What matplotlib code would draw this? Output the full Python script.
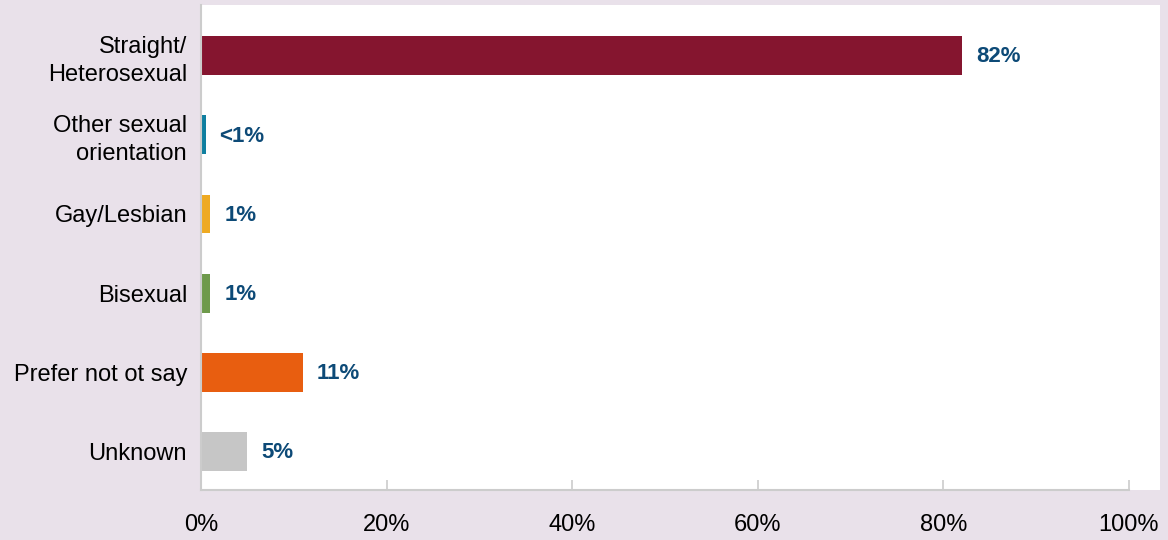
import numpy as np
from matplotlib import pyplot as plt

plt.rcParams['font.family'] = ['Liberation Sans', 'DejaVu Sans']

# data
categories = ['Straight/\nHeterosexual', 'Other sexual\norientation', 'Gay/Lesbian',
              'Bisexual', 'Prefer not ot say', 'Unknown']
values = [82, 0.5, 1, 1, 11, 5]
value_labels = ['82%', '<1%', '1%', '1%', '11%', '5%']
bar_colors = ['#85152f', '#0f7fa0', '#eeaa22', '#6e9a4b', '#e85e10', '#c6c6c6']
x_ticks = [0, 20, 40, 60, 80, 100]
x_tick_labels = ['0%', '20%', '40%', '60%', '80%', '100%']

bg = '#e9e1ea'
fig = plt.figure(figsize=(11.68, 5.4), dpi=100, facecolor=bg)
ax = fig.add_axes([201 / 1168, 50 / 540, 959 / 1168, 485 / 540])
ax.set_facecolor('white')

y = np.arange(len(categories))
ax.barh(y, values, height=0.49, color=bar_colors)

for yi, v, lab in zip(y, values, value_labels):
    ax.annotate(lab, (v, yi), xytext=(10, -1), textcoords='offset points',
                va='center', ha='left', fontsize=16, fontweight='bold',
                color='#0d4a77')

ax.set_xlim(0, 100 * 959 / 928)
ax.set_ylim(5.486, -0.638)
ax.set_xticks(x_ticks)
ax.set_xticklabels(x_tick_labels, fontsize=17)
ax.set_yticks(y)
ax.set_yticklabels(categories, fontsize=17, linespacing=1.35)

ax.tick_params(axis='x', direction='in', length=7, width=1.2, color='#cccccc', pad=17)
ax.tick_params(axis='y', length=0, pad=10)

for s in ['top', 'right']:
    ax.spines[s].set_visible(False)
ax.spines['left'].set_color('#cccccc')
ax.spines['left'].set_linewidth(1.5)
ax.spines['bottom'].set_color('#cccccc')
ax.spines['bottom'].set_linewidth(1.5)
ax.spines['bottom'].set_bounds(0, 100)

fig.savefig('out.png', dpi=100, facecolor=bg)
